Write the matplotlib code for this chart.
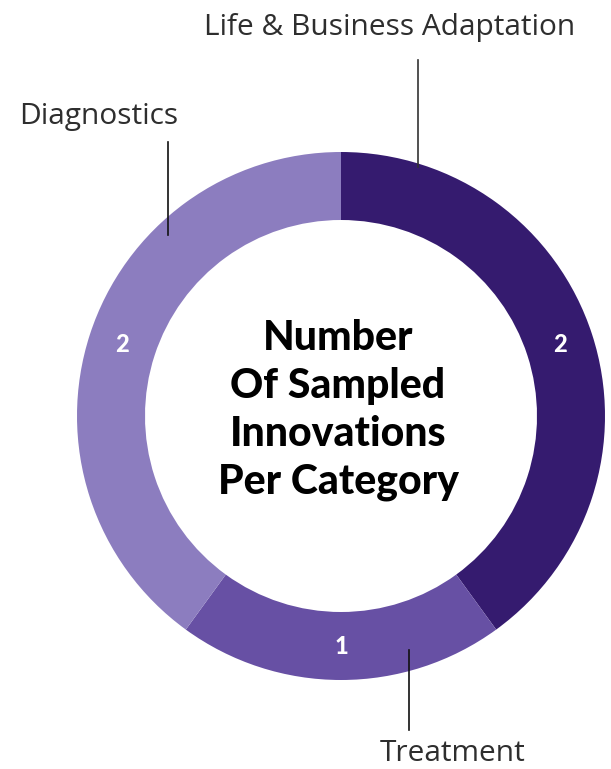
import numpy as np
import matplotlib.pyplot as plt

categories = ["Life & Business Adaptation", "Treatment", "Diagnostics"]
counts = [2, 1, 2]
colors = ["#351b6f", "#6750a4", "#8c7dbf"]
center_title = "Number\nOf Sampled\nInnovations\nPer Category"

W, H = 611, 769


def py(y):
    # pixel row (from top) -> data y
    return H - y


fig = plt.figure(figsize=(W / 100, H / 100), dpi=100)
ax = fig.add_axes([0, 0, 1, 1])

cx, cy = 341, py(416)
outer = 264
ring = 68

wedges, _ = ax.pie(
    counts,
    colors=colors,
    startangle=90,
    counterclock=False,
    radius=outer,
    center=(cx, cy),
    wedgeprops=dict(width=ring, linewidth=0),
    frame=True,
)
ax.set_xlim(0, W)
ax.set_ylim(0, H)
ax.set_aspect("equal")
ax.axis("off")

# value labels in the middle of the ring
mid_r = outer - ring / 2
for w, v in zip(wedges, counts):
    ang = np.deg2rad((w.theta1 + w.theta2) / 2)
    ax.text(
        cx + mid_r * np.cos(ang),
        cy + mid_r * np.sin(ang),
        str(v),
        color="white",
        fontsize=17,
        fontweight="black",
        family=["Lato", "DejaVu Sans"],
        ha="center",
        va="center",
    )

ax.text(
    cx - 3, py(410), center_title,
    ha="center", va="center",
    fontsize=29.5, fontweight="black",
    family=["Lato", "DejaVu Sans"],
    linespacing=1.31,
)

# leader lines and category names
label_font = dict(fontsize=21.5, fontweight="normal", color="#2e2e2e",
                  family=["Open Sans", "DejaVu Sans"])

ax.plot([418, 418], [py(60), py(167)], color="#333333", lw=1.2)
ax.text(390, py(35), categories[0], ha="center", va="baseline", **label_font)

ax.plot([168, 168], [py(142), py(235)], color="#111111", lw=1.2)
ax.text(99, py(124), categories[2], ha="center", va="baseline", **label_font)

ax.plot([409, 409], [py(650), py(730)], color="#111111", lw=1.2)
ax.text(453, py(761), categories[1], ha="center", va="baseline", **label_font)

fig.savefig("out.png", dpi=100)
